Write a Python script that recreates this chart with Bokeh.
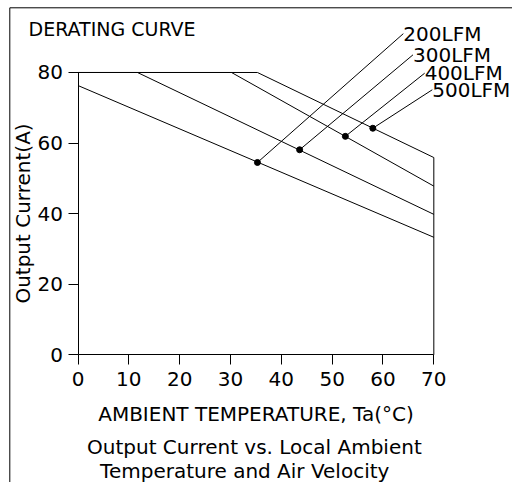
from bokeh.plotting import figure
from bokeh.models import Range1d, FixedTicker, Label, BoxAnnotation
from bokeh.core.properties import value
from bokeh.embed import file_html
from bokeh.resources import INLINE

FONT = "DejaVu Sans"

# ---- data ----
temp_200 = [0, 70]
curr_200 = [76.3, 33.3]
temp_300 = [0, 11.7, 70]
curr_300 = [80, 80, 39.8]
temp_400 = [0, 30.2, 70]
curr_400 = [80, 80, 47.8]
temp_500 = [0, 35.3, 70, 70]
curr_500 = [80, 80, 55.9, 0]

airflow_labels = ["200LFM", "300LFM", "400LFM", "500LFM"]
marker_temp = [35.3, 43.6, 52.6, 58.0]
marker_curr = [54.5, 58.1, 61.9, 64.2]
label_temp = [64.0, 65.9, 68.2, 69.7]
label_curr = [91.0, 85.0, 79.8, 75.1]

x_ticks = [0, 10, 20, 30, 40, 50, 60, 70]
y_ticks = [0, 20, 40, 60, 80]

p = figure(width=512, height=482, output_backend="svg", toolbar_location=None,
           x_range=Range1d(-15.25, 85.48), y_range=Range1d(-36.19, 100.4),
           min_border=0, min_border_left=0, min_border_right=0,
           min_border_top=0, min_border_bottom=0,
           x_axis_label="AMBIENT TEMPERATURE, Ta(°C)",
           y_axis_label="Output Current(A)")
p.grid.visible = False
p.outline_line_color = None
p.background_fill_color = "white"
p.border_fill_color = "white"

for ax, ticks, bounds in ((p.xaxis[0], x_ticks, (0, 70)), (p.yaxis[0], y_ticks, (0, 80))):
    ax.fixed_location = 0
    ax.bounds = bounds
    ax.ticker = FixedTicker(ticks=ticks)
    ax.minor_tick_line_color = None
    ax.major_tick_in = 0
    ax.major_tick_out = 10
    ax.axis_line_color = "black"
    ax.major_tick_line_color = "black"
    ax.major_label_text_font = FONT
    ax.major_label_text_font_size = "20px"
    ax.major_label_text_color = "black"
    ax.axis_label_text_font = FONT
    ax.axis_label_text_font_size = "20px"
    ax.axis_label_text_font_style = "normal"
    ax.axis_label_text_color = "black"

p.xaxis.major_label_standoff = 7
p.xaxis.axis_label_standoff = 13
p.yaxis.major_label_standoff = 5
p.yaxis.axis_label_standoff = 0

# page frame (left and top edges of the drawing box; other edges lie outside the view)
p.add_layout(BoxAnnotation(left=-13.42, top=98.33, right=95, bottom=-45,
                           fill_color=None, fill_alpha=0, line_color="black",
                           line_width=1, line_alpha=1, level="underlay"))

for t, c in ((temp_200, curr_200), (temp_300, curr_300), (temp_400, curr_400), (temp_500, curr_500)):
    p.line(t, c, line_color="black", line_width=1)

p.segment(x0=marker_temp, y0=marker_curr, x1=label_temp, y1=label_curr,
          line_color="black", line_width=1)
p.scatter(marker_temp, marker_curr, size=6, color="black")
p.text(x=label_temp, y=label_curr, text=airflow_labels, text_font=value(FONT),
       text_font_size="20px", text_align="left", text_baseline="alphabetic",
       text_color="black")

p.add_layout(Label(x=-9.74, y=92.2, text="DERATING CURVE", text_font=FONT,
                   text_font_size="19px", text_baseline="alphabetic", text_color="black"))
p.add_layout(Label(x=34.7, y=-26.0, text="Output Current vs. Local Ambient", text_font=FONT,
                   text_font_size="20px", text_align="center", text_baseline="alphabetic",
                   text_color="black"))
p.add_layout(Label(x=32.8, y=-32.8, text="Temperature and Air Velocity", text_font=FONT,
                   text_font_size="20px", text_align="center", text_baseline="alphabetic",
                   text_color="black"))

open("out.html", "w").write(file_html(p, INLINE))
